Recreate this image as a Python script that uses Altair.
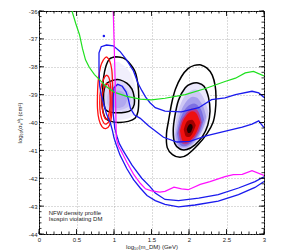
import altair as alt
import pandas as pd

# ---------------- axes ----------------
X_DOMAIN = [0, 3]
Y_DOMAIN = [-44, -36]
x_major = [0, 0.5, 1, 1.5, 2, 2.5, 3]
y_major = [-44, -43, -42, -41, -40, -39, -38, -37, -36]
x_minor = [round(0.1 * i, 1) for i in range(31)]
y_minor = [round(-44 + 0.2 * i, 1) for i in range(41)]

# ---------------- limit curves ----------------
green_x = [0.44, 0.49, 0.54, 0.58, 0.62, 0.67, 0.74, 0.81, 0.90, 1.01, 1.17, 1.35, 1.50, 1.68, 1.95, 2.22, 2.48, 2.62, 2.75, 2.86, 3.00]
green_y = [-36.0, -36.45, -36.85, -37.35, -37.75, -38.02, -38.28, -38.47, -38.72, -38.92, -39.06, -39.16, -39.19, -39.13, -39.0, -38.78, -38.53, -38.41, -38.22, -38.17, -38.33]

magenta_x = [0.99, 1.00, 1.01, 1.02, 1.03, 1.06, 1.10, 1.17, 1.26, 1.35, 1.42, 1.50, 1.61, 1.68, 1.80, 1.90, 1.99, 2.15, 2.28, 2.48, 2.59, 2.71, 2.84, 3.00]
magenta_y = [-36.0, -37.0, -38.0, -39.0, -40.55, -40.85, -41.05, -41.42, -41.85, -42.18, -42.38, -42.45, -42.5, -42.47, -42.32, -42.38, -42.41, -42.22, -42.12, -41.94, -41.87, -41.86, -41.73, -41.9]

blue1_x = [3.00, 2.93, 2.84, 2.62, 2.48, 2.30, 2.13, 1.90, 1.68, 1.55, 1.48, 1.42, 1.37, 1.32, 1.26, 1.17, 1.08, 0.99, 0.90, 0.83, 0.80, 0.80, 0.81, 0.83, 0.86, 0.90, 0.95, 0.98, 1.00, 1.03, 1.08, 1.17, 1.26, 1.35, 1.44, 1.55, 1.68, 1.86, 2.08, 2.39, 2.66, 2.88, 3.00]
blue1_y = [-39.10, -38.94, -38.88, -39.00, -39.12, -39.18, -39.47, -39.62, -39.59, -39.47, -39.29, -39.08, -38.85, -38.59, -38.15, -37.76, -37.45, -37.25, -37.22, -37.28, -37.5, -38.1, -38.7, -39.0, -39.3, -39.7, -40.0, -40.3, -40.55, -40.8, -41.17, -41.65, -42.05, -42.35, -42.62, -42.8, -42.94, -43.03, -42.96, -42.82, -42.59, -42.33, -42.12]

blue2_x = [3.00, 2.96, 2.93, 2.84, 2.71, 2.46, 2.24, 2.01, 1.84, 1.66, 1.46, 1.35, 1.27, 1.22, 1.19, 1.16, 1.11, 1.05, 1.00, 0.99, 0.99, 1.01, 1.04, 1.07, 1.12, 1.24, 1.37, 1.48, 1.55, 1.68, 1.86, 2.13, 2.39, 2.66, 2.88, 3.00]
blue2_y = [-40.18, -40.05, -39.94, -40.06, -40.17, -40.33, -40.47, -40.68, -40.70, -40.53, -40.12, -39.85, -39.72, -39.5, -39.15, -38.9, -38.7, -38.63, -38.75, -39.1, -39.7, -40.2, -40.5, -40.75, -41.0, -41.53, -42.0, -42.3, -42.53, -42.76, -42.8, -42.71, -42.59, -42.35, -42.12, -41.95]

blue_dot_x = [0.865]
blue_dot_y = [-36.9]

# ---------------- contours ----------------
red_outer_x = [0.90, 0.86, 0.82, 0.79, 0.78, 0.78, 0.80, 0.84, 0.89, 0.94, 0.97, 0.98, 0.98, 0.97, 0.94, 0.90]
red_outer_y = [-37.64, -37.75, -38.0, -38.5, -39.0, -39.5, -39.9, -40.15, -40.22, -40.1, -39.7, -39.2, -38.6, -38.1, -37.78, -37.64]
red_mid_x = [0.90, 0.86, 0.82, 0.81, 0.82, 0.86, 0.90, 0.94, 0.96, 0.96, 0.95, 0.93, 0.90]
red_mid_y = [-38.3, -38.45, -38.85, -39.3, -39.7, -40.0, -40.05, -39.9, -39.5, -39.0, -38.6, -38.38, -38.3]
red_in_x = [0.90, 0.86, 0.84, 0.85, 0.88, 0.91, 0.94, 0.95, 0.94, 0.92, 0.90]
red_in_y = [-38.6, -38.8, -39.2, -39.6, -39.85, -39.85, -39.6, -39.2, -38.8, -38.63, -38.6]

bsm_out_x = [1.03, 1.12, 1.19, 1.28, 1.32, 1.33, 1.32, 1.28, 1.19, 1.06, 0.95, 0.88, 0.84, 0.85, 0.86, 0.89, 0.94, 1.03]
bsm_out_y = [-37.64, -37.68, -37.82, -38.17, -38.65, -39.12, -39.6, -39.85, -39.96, -40.0, -39.95, -39.82, -39.35, -38.8, -38.41, -38.0, -37.72, -37.64]
bsm_in_x = [1.01, 1.08, 1.17, 1.24, 1.27, 1.27, 1.23, 1.15, 1.01, 0.92, 0.88, 0.86, 0.87, 0.91, 1.01]
bsm_in_y = [-38.47, -38.47, -38.59, -38.8, -39.1, -39.35, -39.55, -39.63, -39.65, -39.6, -39.5, -39.12, -38.8, -38.58, -38.47]

bbg_out_x = [2.15, 2.24, 2.31, 2.35, 2.36, 2.35, 2.32, 2.24, 2.12, 1.98, 1.88, 1.78, 1.71, 1.70, 1.73, 1.77, 1.82, 1.90, 1.99, 2.07, 2.15]
bbg_out_y = [-37.93, -38.05, -38.3, -38.7, -39.1, -39.6, -40.0, -40.4, -40.8, -41.15, -41.25, -41.15, -40.9, -40.4, -39.9, -39.3, -38.8, -38.35, -38.06, -37.95, -37.93]
bbg_in_x = [2.12, 2.20, 2.26, 2.28, 2.25, 2.18, 2.08, 1.97, 1.88, 1.81, 1.79, 1.81, 1.86, 1.95, 2.04, 2.12]
bbg_in_y = [-38.58, -38.7, -39.1, -39.6, -40.1, -40.5, -40.8, -40.97, -40.95, -40.75, -40.3, -39.8, -39.2, -38.75, -38.6, -38.58]

# ---------------- density shading (nested levels: x, lower, upper) ----------------
big_levels = [
    ("#ebe8fb",
     [1.77, 1.80, 1.85, 1.90, 1.95, 2.00, 2.05, 2.10, 2.15, 2.20, 2.25, 2.29],
     [-40.4, -40.8, -40.95, -41.0, -41.0, -40.97, -40.88, -40.74, -40.58, -40.38, -40.08, -39.6],
     [-40.4, -39.7, -39.15, -38.9, -38.72, -38.62, -38.56, -38.55, -38.57, -38.66, -38.9, -39.6]),
    ("#cdc7f4",
     [1.80, 1.83, 1.88, 1.93, 1.98, 2.03, 2.08, 2.13, 2.18, 2.23, 2.26],
     [-40.5, -40.85, -40.95, -40.97, -40.93, -40.85, -40.72, -40.55, -40.3, -39.95, -39.65],
     [-40.5, -39.9, -39.4, -39.1, -38.95, -38.85, -38.82, -38.88, -39.05, -39.35, -39.65]),
    ("#a69eec",
     [1.82, 1.85, 1.90, 1.95, 2.00, 2.05, 2.10, 2.15, 2.20, 2.23],
     [-40.45, -40.8, -40.9, -40.9, -40.85, -40.75, -40.6, -40.4, -40.1, -39.8],
     [-40.45, -40.0, -39.55, -39.3, -39.15, -39.08, -39.1, -39.25, -39.5, -39.8]),
    ("#7c70e2",
     [1.84, 1.87, 1.92, 1.97, 2.02, 2.07, 2.12, 2.17, 2.20],
     [-40.4, -40.75, -40.85, -40.83, -40.75, -40.62, -40.45, -40.15, -39.9],
     [-40.4, -40.0, -39.65, -39.45, -39.35, -39.32, -39.4, -39.6, -39.9]),
    ("#b8388c",
     [1.86, 1.89, 1.94, 1.99, 2.04, 2.09, 2.14, 2.17],
     [-40.35, -40.7, -40.78, -40.75, -40.65, -40.5, -40.25, -40.0],
     [-40.35, -40.0, -39.75, -39.58, -39.5, -39.52, -39.7, -40.0]),
    ("#ee1010",
     [1.88, 1.91, 1.95, 2.00, 2.05, 2.10, 2.13, 2.15],
     [-40.3, -40.65, -40.72, -40.68, -40.55, -40.35, -40.15, -40.0],
     [-40.3, -40.0, -39.8, -39.65, -39.6, -39.68, -39.85, -40.0]),
    ("#a00000",
     [1.93, 1.96, 2.00, 2.04, 2.07, 2.09],
     [-40.25, -40.5, -40.52, -40.42, -40.25, -40.1],
     [-40.25, -40.02, -39.92, -39.9, -39.98, -40.1]),
    ("#200000",
     [1.97, 1.99, 2.02, 2.04, 2.05],
     [-40.25, -40.38, -40.36, -40.25, -40.17],
     [-40.25, -40.12, -40.05, -40.08, -40.17]),
]

small_levels = [
    ("#f1effc",
     [0.87, 0.90, 0.95, 1.00, 1.05, 1.10, 1.15, 1.20, 1.25, 1.28, 1.30],
     [-39.4, -39.75, -39.88, -39.92, -39.93, -39.9, -39.88, -39.85, -39.75, -39.6, -39.3],
     [-38.7, -38.2, -37.95, -37.85, -37.82, -37.9, -38.0, -38.15, -38.4, -38.7, -39.0]),
    ("#dcd7f8",
     [0.87, 0.90, 0.95, 1.00, 1.05, 1.10, 1.15, 1.20, 1.24, 1.27],
     [-39.3, -39.55, -39.62, -39.65, -39.65, -39.63, -39.6, -39.55, -39.45, -39.25],
     [-38.9, -38.6, -38.5, -38.47, -38.46, -38.5, -38.55, -38.65, -38.8, -39.0]),
    ("#c6bff3",
     [0.91, 0.95, 1.00, 1.05, 1.10, 1.15, 1.20, 1.22],
     [-39.3, -39.5, -39.55, -39.56, -39.54, -39.5, -39.4, -39.25],
     [-39.05, -38.75, -38.65, -38.62, -38.65, -38.75, -38.95, -39.1]),
    ("#b1a8ef",
     [0.96, 1.00, 1.05, 1.10, 1.15, 1.17],
     [-39.3, -39.45, -39.48, -39.45, -39.35, -39.22],
     [-39.1, -38.9, -38.85, -38.88, -39.0, -39.12]),
]

note_lines = ["NFW density profile", "Isospin violating DM"]
note_x = [0.13, 0.13]
note_y = [-43.24, -43.47]

# ---------------- build ----------------
W, H = 225, 223
FONT = "Liberation Sans"
xs = alt.Scale(domain=X_DOMAIN, nice=False, zero=False)
ys = alt.Scale(domain=Y_DOMAIN, nice=False, zero=False)

X_AXIS = alt.Axis(
    values=x_major, format="~g", ticks=False, domain=False, grid=True,
    gridDash=[1, 2], gridColor="#9a9a9a", gridWidth=0.7,
    labelFontSize=6, labelFont=FONT, labelColor="#222", labelPadding=2,
    labelFlush=False, labelOverlap=False,
    title="log₁₀(m_DM) (GeV)", titleFont=FONT, titleFontSize=6,
    titleFontWeight="normal", titleColor="#222", titlePadding=1)
Y_AXIS = alt.Axis(
    values=y_major, format="~g", ticks=False, domain=False, grid=True,
    gridDash=[1, 2], gridColor="#9a9a9a", gridWidth=0.7,
    labelFontSize=6, labelFont=FONT, labelColor="#222", labelPadding=2,
    labelFlush=False, labelOverlap=False,
    labelExpr="replace(datum.label, '\u2212', '-')",
    title="log₁₀(σₙˢᴵ) (cm²)", titleFont=FONT, titleFontSize=6,
    titleFontWeight="normal", titleColor="#222", titlePadding=6)


def xq(field):
    return alt.X(field, type="quantitative", scale=xs, axis=X_AXIS)


def yq(field, **kw):
    return alt.Y(field, type="quantitative", scale=ys, axis=Y_AXIS, **kw)


layers = []


def area_layer(color, xv, lo, hi):
    df = pd.DataFrame({"x": xv, "lo": lo, "hi": hi})
    return alt.Chart(df).mark_area(color=color, interpolate="monotone", clip=True).encode(
        x=xq("x"), y=yq("lo", stack=None), y2="hi:Q")


for lev in big_levels + small_levels:
    layers.append(area_layer(*lev))


def line_layer(xv, yv, color, width=1.3, interp="linear"):
    df = pd.DataFrame({"x": xv, "y": yv, "o": list(range(len(xv)))})
    return alt.Chart(df).mark_line(color=color, strokeWidth=width, clip=True,
                                   interpolate=interp).encode(
        x=xq("x"), y=yq("y"), order="o:Q")


for cx, cy in [(bbg_out_x, bbg_out_y), (bbg_in_x, bbg_in_y),
               (bsm_out_x, bsm_out_y), (bsm_in_x, bsm_in_y)]:
    layers.append(line_layer(cx, cy, "#000000", 1.5, "cardinal"))
for cx, cy in [(red_outer_x, red_outer_y), (red_mid_x, red_mid_y), (red_in_x, red_in_y)]:
    layers.append(line_layer(cx, cy, "#ff1010", 1.3, "cardinal"))
layers.append(line_layer(blue1_x, blue1_y, "#1a1aee", 1.3))
layers.append(line_layer(blue2_x, blue2_y, "#1a1aee", 1.3))
layers.append(alt.Chart(pd.DataFrame({"x": blue_dot_x, "y": blue_dot_y})).mark_circle(
    color="#1a1aee", size=6, opacity=1).encode(x=xq("x"), y=yq("y")))
layers.append(line_layer(green_x, green_y, "#1fe01f", 1.2))
layers.append(line_layer(magenta_x, magenta_y, "#ff10ff", 1.2))

layers.append(alt.Chart(pd.DataFrame({"x": note_x, "y": note_y, "t": note_lines})).mark_text(
    align="left", baseline="middle", fontSize=6, font=FONT, color="#222").encode(
    x=xq("x"), y=yq("y"), text="t:N"))


# inward ticks on all four sides
def yticks(vals, length):
    df = pd.DataFrame({"v": vals})
    left = alt.Chart(df).mark_rule(color="black", strokeWidth=0.8).encode(
        y=yq("v"), x=alt.value(0), x2=alt.value(length))
    right = alt.Chart(df).mark_rule(color="black", strokeWidth=0.8).encode(
        y=yq("v"), x=alt.value(W - length), x2=alt.value(W))
    return [left, right]


def xticks(vals, length):
    df = pd.DataFrame({"v": vals})
    bottom = alt.Chart(df).mark_rule(color="black", strokeWidth=0.8).encode(
        x=xq("v"), y=alt.value(H - length), y2=alt.value(H))
    top = alt.Chart(df).mark_rule(color="black", strokeWidth=0.8).encode(
        x=xq("v"), y=alt.value(0), y2=alt.value(length))
    return [bottom, top]


layers += yticks(y_major, 5) + yticks(y_minor, 2.5) + xticks(x_major, 5) + xticks(x_minor, 2.5)

chart = alt.layer(*layers).properties(
    width=W, height=H,
    autosize=alt.AutoSizeParams(type="none"),
    padding={"left": 31, "top": 3, "right": 20, "bottom": 16},
    background="white",
).configure_view(stroke="black", strokeWidth=1)

chart.save("out.html", embed_options={"renderer": "svg", "actions": False})
